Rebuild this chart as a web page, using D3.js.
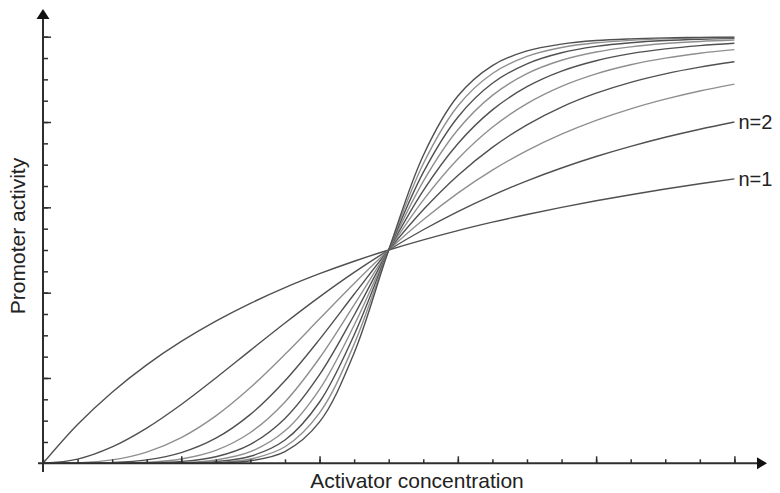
<!DOCTYPE html>
<html>
<head>
<meta charset="utf-8">
<script src="https://cdn.jsdelivr.net/npm/d3@7/dist/d3.min.js"></script>
<style>
  html, body { margin: 0; padding: 0; background: #fff; }
  svg { display: block; font-family: "Liberation Sans", Arial, sans-serif; }
</style>
</head>
<body>
<svg id="chart" width="780" height="493"></svg>
<script>
// ---- Data ----
const xValues = [0, 0.1, 0.2, 0.3, 0.4, 0.5, 0.6, 0.7, 0.8, 0.9, 1.0,
                 1.1, 1.2, 1.3, 1.4, 1.5, 1.6, 1.7, 1.8, 1.9, 2.0];
const hillN = [1, 2, 3, 4, 5, 6, 7, 8, 9, 10];
const seriesN1  = [0, .0909, .1667, .2308, .2857, .3333, .375, .4118, .4444, .4737, .5, .5238, .5455, .5652, .5833, .6, .6154, .6296, .6429, .6552, .6667];
const seriesN2  = [0, .0099, .0385, .0826, .1379, .2, .2647, .3289, .3902, .4475, .5, .5475, .5902, .6283, .6622, .6923, .7191, .7429, .7642, .7831, .8];
const seriesN3  = [0, .001, .0079, .0263, .0602, .1111, .1776, .2554, .3386, .4216, .5, .571, .6334, .6872, .7329, .7714, .8038, .8309, .8536, .8728, .8889];
const seriesN4  = [0, .0001, .0016, .008, .025, .0588, .1147, .1936, .2906, .3962, .5, .5942, .6747, .7407, .7935, .8351, .8676, .8931, .913, .9287, .9412];
const seriesN5  = [0, 0, .0003, .0024, .0101, .0303, .0722, .1439, .2468, .3713, .5, .6169, .7133, .7878, .8432, .8836, .9129, .9342, .9497, .9612, .9697];
const seriesN6  = [0, 0, .0001, .0007, .0041, .0154, .0446, .1053, .2077, .347, .5, .6392, .7491, .8284, .8828, .9193, .9437, .9602, .9714, .9792, .9846];
const seriesN7  = [0, 0, 0, .0002, .0016, .0078, .0272, .0761, .1734, .3235, .5, .6609, .7818, .8625, .9134, .9447, .9641, .9762, .9839, .9889, .9922];
const seriesN8  = [0, 0, 0, .0001, .0007, .0039, .0165, .0545, .1437, .3009, .5, .6819, .8113, .8908, .9365, .9624, .9772, .9859, .991, .9941, .9961];
const seriesN9  = [0, 0, 0, 0, .0003, .0019, .01, .0388, .1183, .2792, .5, .7022, .8377, .9138, .9538, .9746, .9857, .9916, .995, .9969, .998];
const seriesN10 = [0, 0, 0, 0, .0001, .001, .006, .0275, .097, .2586, .5, .7217, .8609, .9324, .9666, .9827, .991, .995, .9972, .9984, .999];
const allSeries = [seriesN1, seriesN2, seriesN3, seriesN4, seriesN5, seriesN6, seriesN7, seriesN8, seriesN9, seriesN10];
const xMinorTicks = d3.range(0, 21).map(i => i * 0.1);
const xMajorTicks = [0.4, 0.8, 1.2, 1.6, 2.0];
const yMinorTicks = d3.range(1, 21).map(i => i * 0.05);
const yMajorTicks = [0.2, 0.4, 0.6, 0.8, 1.0];
const curveLabels = ["n=1", "n=2"];
const xTitle = "Activator concentration";
const yTitle = "Promoter activity";

// ---- Layout ----
const svg = d3.select("#chart");
const x0 = 43, x2 = 734.4, yBase = 463.3, yTop = 36.7;
const x = d3.scaleLinear().domain([0, 2]).range([x0, x2]);
const y = d3.scaleLinear().domain([0, 1]).range([yBase, yTop]);
const axisColor = "#2e2e2e";

// curves
const line = d3.line().x((d, i) => x(xValues[i])).y(d => y(d)).curve(d3.curveCatmullRom.alpha(0.5));
const colorFor = n => (n >= 3 && n % 2 === 1) ? "#8f8f8f" : "#505050";
svg.append("g").selectAll("path").data(allSeries).join("path")
  .attr("d", d => line(d))
  .attr("fill", "none")
  .attr("stroke", (d, i) => colorFor(hillN[i]))
  .attr("stroke-width", 1.4);

// x axis ticks
const gx = svg.append("g").attr("transform", `translate(0,${yBase})`);
gx.append("g").call(d3.axisBottom(x).tickValues(xMinorTicks).tickSize(-4).tickFormat(""))
  .call(g => g.select(".domain").remove());
gx.append("g").call(d3.axisBottom(x).tickValues(xMajorTicks).tickSize(-7).tickFormat(""))
  .call(g => g.select(".domain").remove());
gx.selectAll("line").attr("stroke", axisColor).attr("stroke-width", 1.5);

// y axis ticks
const gy = svg.append("g").attr("transform", `translate(${x0},0)`);
gy.append("g").call(d3.axisLeft(y).tickValues(yMinorTicks).tickSize(-5).tickFormat(""))
  .call(g => g.select(".domain").remove());
gy.append("g").call(d3.axisLeft(y).tickValues(yMajorTicks).tickSize(-8).tickFormat(""))
  .call(g => g.select(".domain").remove());
gy.selectAll("line").attr("stroke", axisColor).attr("stroke-width", 1.5);

// axis lines with arrows
svg.append("line").attr("x1", 38).attr("x2", 760).attr("y1", yBase).attr("y2", yBase)
  .attr("stroke", axisColor).attr("stroke-width", 2);
svg.append("path").attr("d", `M767,${yBase} L757,${yBase - 6} L757,${yBase + 6} Z`).attr("fill", "#111");
svg.append("line").attr("x1", x0).attr("x2", x0).attr("y1", 472).attr("y2", 17)
  .attr("stroke", axisColor).attr("stroke-width", 2);
svg.append("path").attr("d", `M${x0},9 L${x0 - 6.5},19 L${x0 + 6.5},19 Z`).attr("fill", "#111");

// curve labels
svg.append("g").selectAll("text").data(curveLabels).join("text")
  .attr("x", x(2) + 4)
  .attr("y", (d, i) => y(allSeries[i][allSeries[i].length - 1]) + 7)
  .attr("font-size", 20)
  .attr("fill", "#222")
  .text(d => d);

// axis titles
svg.append("text").attr("x", 417).attr("y", 488).attr("text-anchor", "middle")
  .attr("font-size", 21).attr("fill", "#222").text(xTitle);
svg.append("text").attr("transform", "translate(25,236) rotate(-90)").attr("text-anchor", "middle")
  .attr("font-size", 21).attr("fill", "#222").text(yTitle);
</script>
</body>
</html>
